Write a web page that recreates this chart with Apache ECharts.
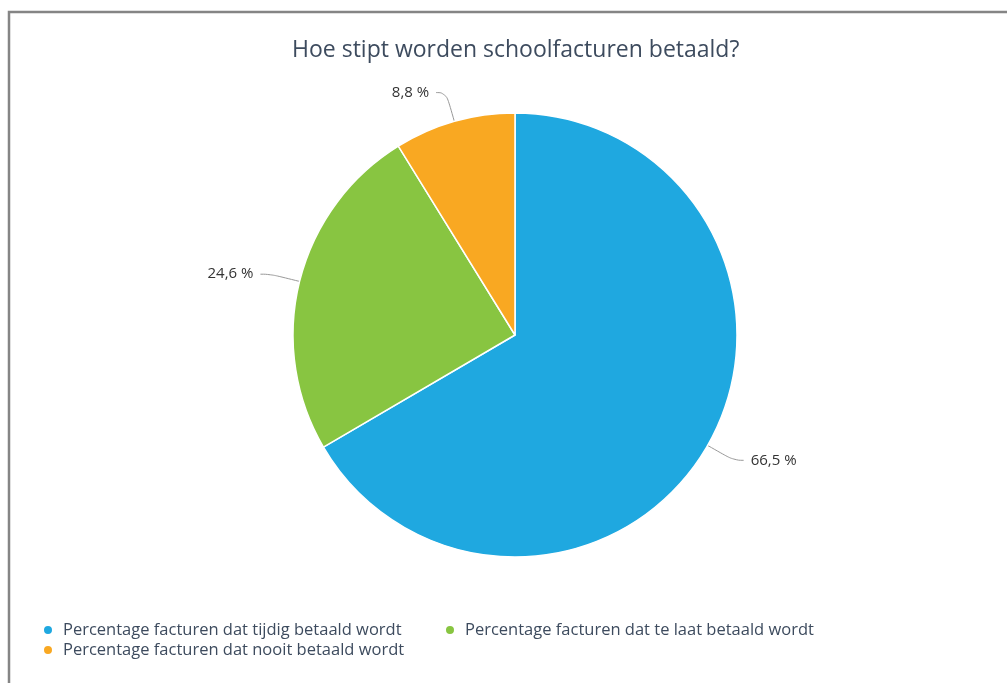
<!DOCTYPE html>
<html>
<head>
<meta charset="utf-8">
<script src="https://cdn.jsdelivr.net/npm/echarts@6/dist/echarts.min.js"></script>
<style>html,body{margin:0;padding:0;background:#fff;}#c{width:1007px;height:683px;}</style>
</head>
<body>
<div id="c"></div>
<script>
const titleText = 'Hoe stipt worden schoolfacturen betaald?';
const categories = [
  'Percentage facturen dat tijdig betaald wordt',
  'Percentage facturen dat te laat betaald wordt',
  'Percentage facturen dat nooit betaald wordt'
];
const values = [66.5, 24.6, 8.8];
const colors = ['#1fa8e0', '#88c541', '#f9a822'];

const chart = echarts.init(document.getElementById('c'));
chart.setOption({
  animation: false,
  backgroundColor: '#fff',
  color: colors,
  graphic: [{
    type: 'rect', silent: true,
    shape: { x: 9, y: 12, width: 1020, height: 700 },
    style: { fill: 'none', stroke: '#858585', lineWidth: 2.5 }
  }],
  title: {
    text: titleText,
    left: 292,
    top: 39,
    padding: 0,
    textStyle: { fontFamily: 'Open Sans', fontSize: 23, fontWeight: 'normal', color: '#3d4b5e' }
  },
  legend: {
    data: categories,
    left: 42,
    top: 621,
    width: 900,
    orient: 'horizontal',
    icon: 'circle',
    itemWidth: 20,
    itemHeight: 10,
    itemGap: 2,
    padding: 0,
    textStyle: { fontFamily: 'Open Sans', fontSize: 16.5, color: '#3d4b5e', width: 379, lineHeight: 18 }
  },
  series: [{
    type: 'pie',
    center: [515, 335],
    radius: 222,
    startAngle: 90,
    clockwise: true,
    itemStyle: { borderColor: '#fff', borderWidth: 1.5 },
    label: {
      show: true,
      fontFamily: 'Open Sans',
      fontSize: 15,
      color: '#333',
      padding: [6, 0, 0, 0],
      distanceToLabelLine: 7,
      formatter: p => String(p.value).replace('.', ',') + ' %'
    },
    labelLine: {
      show: true, length: 30, length2: 10, smooth: 0.5,
      lineStyle: { color: '#999', width: 1 }
    },
    data: categories.map((n, i) => ({ name: n, value: values[i] }))
  }]
});
</script>
</body>
</html>
